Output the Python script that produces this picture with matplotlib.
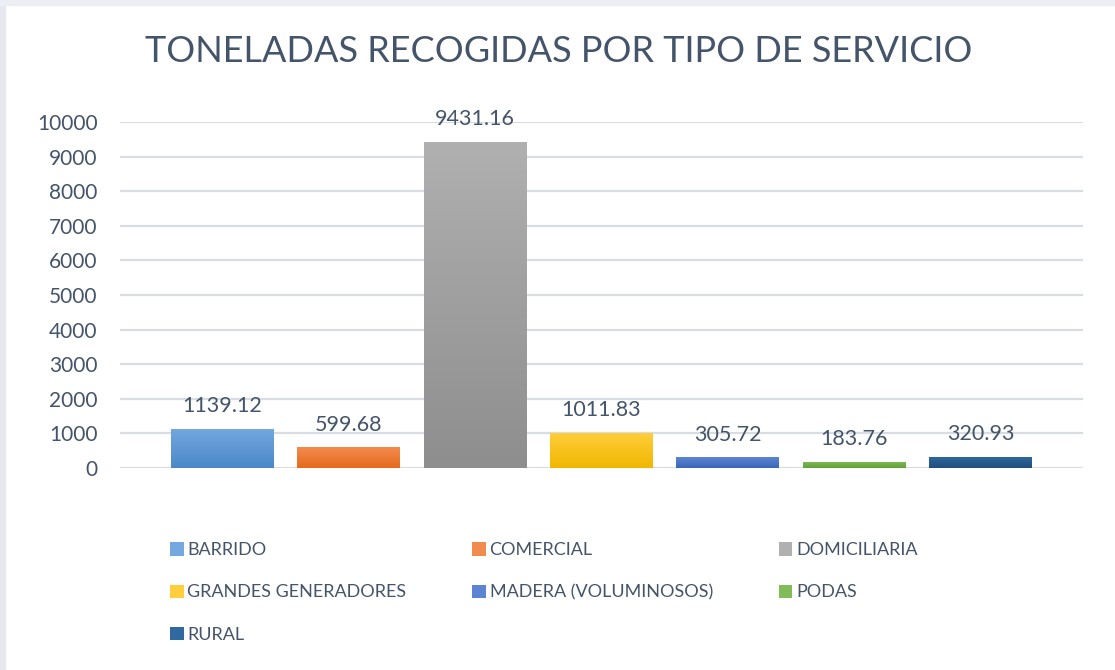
import numpy as np
import matplotlib.pyplot as plt
from matplotlib.colors import LinearSegmentedColormap
from matplotlib.patches import Rectangle

categorias = ['BARRIDO', 'COMERCIAL', 'DOMICILIARIA', 'GRANDES GENERADORES',
              'MADERA (VOLUMINOSOS)', 'PODAS', 'RURAL']
toneladas = [1139.12, 599.68, 9431.16, 1011.83, 305.72, 183.76, 320.93]
# (arriba, abajo) del degradado de cada barra
colores = [('#74a8de', '#4a88c9'), ('#f28b4e', '#e66a1c'), ('#b0b0b0', '#8e8e8e'),
           ('#ffce3c', '#f1b700'), ('#5d84d2', '#3a66b8'), ('#80bd58', '#62a03a'),
           ('#30699f', '#1f4e7e')]
ticks_y = np.arange(0, 10001, 1000)

texto = '#44546a'
plt.rcParams['font.family'] = ['Lato', 'DejaVu Sans']

fig = plt.figure(figsize=(11.15, 6.7), dpi=100)
fig.patch.set_facecolor('white')
# borde gris del recorte
fig.patches.append(Rectangle((0, 0), 5 / 1115, 1, transform=fig.transFigure,
                             color='#e7e7f0', zorder=0))
fig.patches.append(Rectangle((0, 1 - 5 / 670), 1, 5 / 670, transform=fig.transFigure,
                             color='#eceef3', zorder=0))

ax = fig.add_axes([120 / 1115, 1 - 468 / 670, (1083 - 120) / 1115, (468 - 122) / 670])
x = np.arange(len(categorias))
ancho = 0.815
barras = ax.bar(x, toneladas, width=ancho, color=[c[0] for c in colores],
                label=categorias, zorder=2)
for b, (arriba, abajo), v in zip(barras, colores, toneladas):
    cmap = LinearSegmentedColormap.from_list('g', [abajo, arriba])
    im = ax.imshow(np.linspace(0, 1, 100).reshape(-1, 1), cmap=cmap, origin='lower',
                   extent=[b.get_x(), b.get_x() + b.get_width(), 0, v],
                   aspect='auto', zorder=3)
    im.set_clip_path(b)
    ax.annotate(f'{v:.2f}', (b.get_x() + b.get_width() / 2, v), xytext=(0, 9),
                textcoords='offset points', ha='center', va='bottom',
                fontsize=15.5, color=texto, zorder=4)

ax.set_xlim(-0.81, len(categorias) - 1 + 0.81)
ax.set_ylim(0, 10000)
ax.set_yticks(ticks_y)
ax.set_xticks([])
ax.tick_params(axis='y', length=0, pad=16, labelsize=15, labelcolor=texto)
ax.grid(axis='y', color='#d9dde3', linewidth=1.6, zorder=0)
ax.set_axisbelow(True)
for s in ax.spines.values():
    s.set_visible(False)

fig.text(0.5015, 1 - 52 / 670, 'TONELADAS RECOGIDAS POR TIPO DE SERVICIO',
         ha='center', va='center', fontsize=26, color=texto)

# orden por filas: B C D / G M P / R
orden = [0, 3, 6, 1, 4, 2, 5]
leg = fig.legend([barras[i] for i in orden], [categorias[i] for i in orden],
                 ncol=3, loc='upper left', bbox_to_anchor=(154 / 1115, 1 - 526 / 670),
                 frameon=False, fontsize=13, handlelength=0.75, handleheight=0.75,
                 handletextpad=0.2, labelspacing=1.45, columnspacing=3.65)
for t in leg.get_texts():
    t.set_color(texto)

fig.savefig('out.png', dpi=100, facecolor='white')
